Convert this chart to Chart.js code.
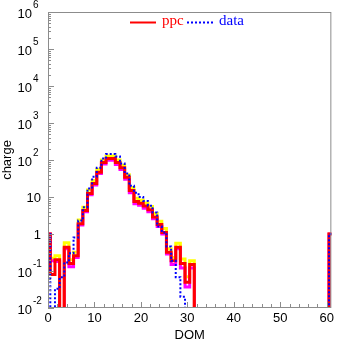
<!DOCTYPE html>
<html>
<head>
<meta charset="utf-8">
<script src="https://cdn.jsdelivr.net/npm/chart.js@4.4.1/dist/chart.umd.min.js"></script>
<style>
  body { margin: 0; background: #fff; }
  canvas { display: block; }
</style>
</head>
<body>
<canvas id="domChart" width="337" height="344"></canvas>
<script>
// DOM bins 0..61 (bin 61 is the overflow spike at the right edge)
const ppc = [
  1, 0.08, 0.2, 0, 0.44, 0.16, 0.26, 1.9, 4.3, 12.5,
  23, 47, 85, 110, 110, 85, 62, 34, 15, 7.6,
  6.8, 5.7, 4.5, 2.9, 1.8, 1.1, 0.32, 0.19, 0.44, 0.16,
  0.05, 0.15, 0, 0, 0, 0, 0, 0, 0, 0,
  0, 0, 0, 0, 0, 0, 0, 0, 0, 0,
  0, 0, 0, 0, 0, 0, 0, 0, 0, 0,
  0, 1
];
const ppcHigh = [
  1, 0.22, 0.26, 0, 0.58, 0.2, 0.32, 2.4, 5.3, 15.5,
  28, 56, 100, 128, 128, 100, 72, 40, 18, 9.2,
  8.2, 6.9, 5.5, 3.6, 2.2, 1.4, 0.4, 0.23, 0.56, 0.21,
  0.07, 0.19, 0, 0, 0, 0, 0, 0, 0, 0,
  0, 0, 0, 0, 0, 0, 0, 0, 0, 0,
  0, 0, 0, 0, 0, 0, 0, 0, 0, 0,
  0, 1
];
const ppcLow = [
  1, 0.19, 0.18, 0, 0.4, 0.13, 0.23, 1.75, 4.0, 11.5,
  21, 43, 78, 98, 98, 76, 55, 30, 13, 6.6,
  6.0, 5.0, 4.0, 2.6, 1.6, 1.0, 0.29, 0.15, 0.4, 0.12,
  0.037, 0.12, 0, 0, 0, 0, 0, 0, 0, 0,
  0, 0, 0, 0, 0, 0, 0, 0, 0, 0,
  0, 0, 0, 0, 0, 0, 0, 0, 0, 0,
  0, 1
];
const data = [
  1, 0, 0.033, 0.068, 0.17, 0.3, 0.8, 2.3, 5.3, 17,
  35, 62, 110, 145, 145, 125, 80, 43, 20, 13,
  10, 7.8, 5.8, 3.8, 1.6, 1.1, 0.46, 0.19, 0.068, 0.02,
  0, 0, 0, 0, 0, 0, 0, 0, 0, 0,
  0, 0, 0, 0, 0, 0, 0, 0, 0, 0,
  0, 0, 0, 0, 0, 0, 0, 0, 0, 0,
  0, 1
];

// y tick labels: base and exponent
const yTickValues = [1e-2, 1e-1, 1, 10, 1e2, 1e3, 1e4, 1e5, 1e6];
const yTickBase = ['10', '10', '1', '10', '10', '10', '10', '10', '10'];
const yTickExp = ['-2', '-1', '', '', '2', '3', '4', '5', '6'];

const SANS = '"Liberation Sans", Arial, sans-serif';
const SERIF = '"Liberation Serif", "Times New Roman", serif';
const FRAME = '#8c8c8c';

// histogram -> step points at bin edges (bins centred on integers)
function histPoints(vals) {
  const pts = vals.map((v, i) => ({ x: i - 0.5, y: v > 0 ? v : 1e-4 }));
  pts.push({ x: vals.length - 0.5, y: pts[pts.length - 1].y });
  return pts;
}

function stepSet(label, vals, color, width, dash, order) {
  return {
    label: label,
    data: histPoints(vals),
    borderColor: color,
    borderWidth: width,
    borderDash: dash,
    stepped: true,
    pointRadius: 0,
    fill: false,
    clip: 0,
    order: order
  };
}

// frame, inward ticks, y labels, legend
const decor = {
  id: 'decor',
  afterDatasetsDraw(chart) {
    const { ctx, chartArea: a, scales: { x, y } } = chart;
    ctx.save();
    ctx.strokeStyle = FRAME;
    ctx.lineWidth = 1;
    ctx.strokeRect(a.left + 0.5, a.top + 0.5, a.right - a.left - 1, a.bottom - a.top - 1);

    ctx.beginPath();
    for (let e = -2; e < 6; e++) {
      for (let m = 1; m < 10; m++) {
        const py = Math.round(y.getPixelForValue(m * Math.pow(10, e))) + 0.5;
        const len = m === 1 ? 6 : 3;
        ctx.moveTo(a.left, py);
        ctx.lineTo(a.left + len, py);
      }
    }
    for (let v = 2; v <= 60; v += 2) {
      const px = Math.round(x.getPixelForValue(v)) + 0.5;
      const len = v % 10 === 0 ? 6 : 4;
      ctx.moveTo(px, a.bottom);
      ctx.lineTo(px, a.bottom - len);
    }
    ctx.stroke();

    ctx.fillStyle = '#000';
    ctx.textBaseline = 'middle';
    yTickValues.forEach((v, i) => {
      const py = y.getPixelForValue(v);
      if (yTickExp[i]) {
        ctx.font = '13px ' + SANS;
        ctx.textAlign = 'right';
        ctx.fillText(yTickBase[i], 32, py + 2);
        ctx.font = '10px ' + SANS;
        ctx.textAlign = 'left';
        ctx.fillText(yTickExp[i], 33, py - 7);
      } else {
        ctx.font = '13px ' + SANS;
        ctx.textAlign = 'right';
        ctx.fillText(yTickBase[i], 41, py + 1);
      }
    });

    // legend inside the frame
    ctx.lineWidth = 2;
    ctx.strokeStyle = '#ff0000';
    ctx.beginPath();
    ctx.moveTo(130, 22.5);
    ctx.lineTo(156, 22.5);
    ctx.stroke();
    ctx.strokeStyle = '#0000ff';
    ctx.setLineDash([2, 2]);
    ctx.beginPath();
    ctx.moveTo(187, 22.5);
    ctx.lineTo(213, 22.5);
    ctx.stroke();
    ctx.setLineDash([]);
    ctx.font = '15px ' + SERIF;
    ctx.textAlign = 'left';
    ctx.fillStyle = '#ff0000';
    ctx.fillText('ppc', 162, 21);
    ctx.fillStyle = '#0000ff';
    ctx.fillText('data', 219, 21);
    ctx.restore();
  }
};

const config = {
  type: 'line',
  data: {
    datasets: [
      stepSet('data', data, '#0000ff', 2, [2, 2], 0),
      stepSet('ppc', ppc, '#ff0000', 3, [], 1),
      stepSet('ppc low', ppcLow, '#ff00ff', 3, [], 2),
      stepSet('ppc high', ppcHigh, '#ffff00', 3, [], 3)
    ]
  },
  options: {
    responsive: false,
    animation: false,
    devicePixelRatio: 1,
    layout: { padding: { top: 12, right: 4, left: 0, bottom: 0 } },
    plugins: {
      legend: { display: false },
      tooltip: { enabled: false }
    },
    scales: {
      x: {
        type: 'linear',
        min: 0,
        max: 61,
        grid: { display: false, drawTicks: false },
        border: { display: false },
        ticks: {
          stepSize: 2,
          includeBounds: false,
          autoSkip: false,
          maxRotation: 0,
          padding: 3,
          color: '#000',
          font: { family: SANS, size: 13 },
          callback: v => (v % 10 === 0 ? v : '')
        },
        title: {
          display: true,
          text: 'DOM',
          color: '#000',
          font: { family: SANS, size: 13 },
          padding: { top: 0, bottom: 1 }
        },
        afterFit: s => { s.height = 36; }
      },
      y: {
        type: 'logarithmic',
        min: 0.01,
        max: 1e6,
        grid: { display: false, drawTicks: false },
        border: { display: false },
        ticks: { display: false },
        title: {
          display: true,
          text: 'charge',
          color: '#000',
          font: { family: SANS, size: 13 },
          padding: { top: 0, bottom: 0 }
        },
        afterFit: s => { s.width = 48; }
      }
    }
  },
  plugins: [decor]
};

const domCtx = document.getElementById('domChart').getContext('2d');
new Chart(domCtx, config);
</script>
</body>
</html>
